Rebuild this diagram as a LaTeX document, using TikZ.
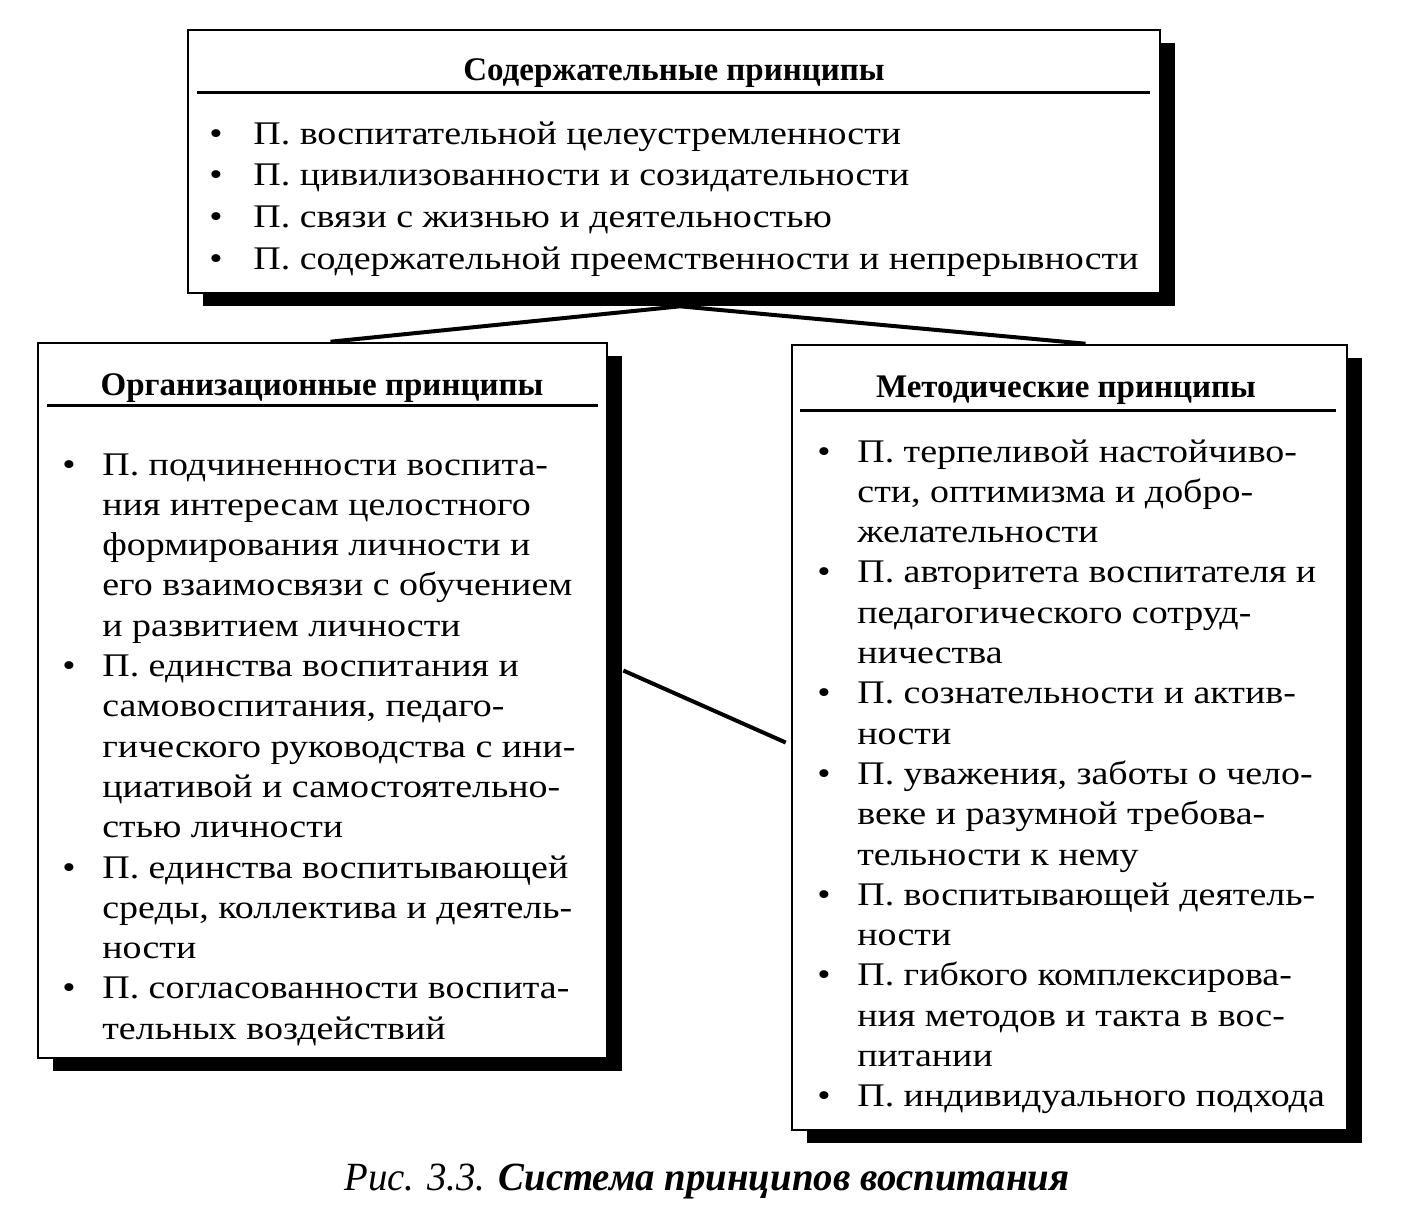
\documentclass[tikz,border=0pt]{standalone}
\usepackage{fontspec}
\setmainfont{Liberation Serif}
\newfontfamily\ttlfont{Liberation Serif}
\newfontfamily\bodyfont[FakeStretch=1.15]{Liberation Serif}
\newfontfamily\capfont[FakeStretch=0.97]{Liberation Serif}
\usetikzlibrary{fit,calc,shadows}
\newcommand\bul{\makebox[22pt][l]{\textbullet}}
\newcommand\bulL{\makebox[20pt][l]{\textbullet}}
\newcommand\ind{\hspace*{20pt}}
\begin{document}
\begin{tikzpicture}[x=0.5pt,y=-0.5pt,
  box/.style={draw=black, line width=1.3pt, fill=white, inner sep=0pt,
    drop shadow={shadow xshift=7.5pt, shadow yshift=-6.5pt, fill=black, opacity=1}},
  ttl/.style={font=\ttlfont\bfseries\fontsize{16.5}{19}\selectfont, anchor=base, inner sep=0pt},
  body/.style={font=\bodyfont\fontsize{16.5}{20.15}\selectfont, align=left, anchor=north west, inner sep=0pt},
  rule/.style={line width=1.5pt},
  conn/.style={line width=2pt}]
\useasboundingbox (0,0) rectangle (1414,1223);

\node[box, fit={(188,30) (1160,293)}] (top) {};
\node[box, fit={(38,343) (607,1058)}] (org) {};
\node[box, fit={(792,345) (1347,1130)}] (met) {};

\coordinate (apex) at ($(top.south)+(6,12)$);
\draw[conn] ($(org.north)+(8,0)$) -- (apex) -- ($(met.north)+(16,0)$);
\draw[conn] ($(org.east)+(15,-30)$) -- ($(met.west)+(-5,5)$);

\node[ttl] (topT) at (674,80) {Содержательные принципы};
\draw[rule] (197,92) -- (1150,92);
\node[body, font=\bodyfont\fontsize{16.5}{20.85}\selectfont] (topB) at (209,121) {%
\bul П. воспитательной целеустремленности\\
\bul П. цивилизованности и созидательности\\
\bul П. связи с жизнью и деятельностью\\
\bul П. содержательной преемственности и непрерывности};

\node[ttl] (orgT) at (322,395) {Организационные принципы};
\draw[rule] (47,405) -- (598,405);
\node[body] (orgB) at (62,453) {%
\bulL П. подчиненности воспита-\\
\ind ния интересам целостного\\
\ind формирования личности и\\
\ind его взаимосвязи с обучением\\
\ind и развитием личности\\
\bulL П. единства воспитания и\\
\ind самовоспитания, педаго-\\
\ind гического руководства с ини-\\
\ind циативой и самостоятельно-\\
\ind стью личности\\
\bulL П. единства воспитывающей\\
\ind среды, коллектива и деятель-\\
\ind ности\\
\bulL П. согласованности воспита-\\
\ind тельных воздействий};

\node[ttl] (metT) at (1066,397) {Методические принципы};
\draw[rule] (800,410) -- (1336,410);
\node[body] (metB) at (817,439) {%
\bulL П. терпеливой настойчиво-\\
\ind сти, оптимизма и добро-\\
\ind желательности\\
\bulL П. авторитета воспитателя и\\
\ind педагогического сотруд-\\
\ind ничества\\
\bulL П. сознательности и актив-\\
\ind ности\\
\bulL П. уважения, заботы о чело-\\
\ind веке и разумной требова-\\
\ind тельности к нему\\
\bulL П. воспитывающей деятель-\\
\ind ности\\
\bulL П. гибкого комплексирова-\\
\ind ния методов и такта в вос-\\
\ind питании\\
\bulL П. индивидуального подхода};

\node[font=\capfont\itshape\fontsize{20}{24}\selectfont, anchor=base, inner sep=0pt] (cap) at (707,1190) {Рис. 3.3. \textbf{Система принципов воспитания}};
\end{tikzpicture}
\end{document}
